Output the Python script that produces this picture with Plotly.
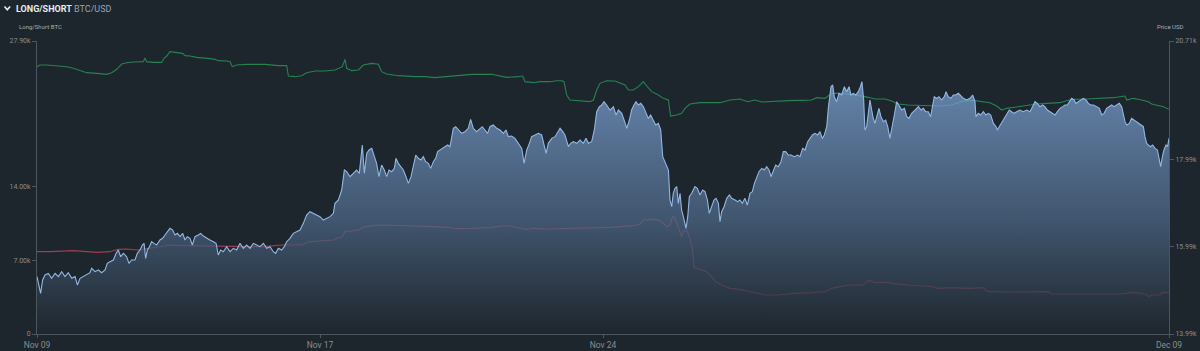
import pandas as pd
import plotly.graph_objects as go

# ---------------- data ----------------
START = pd.Timestamp("2020-11-09 12:00")
END_HOURS = 720

x_tick_hours = [0, 180, 360, 720]
x_tick_labels = ["Nov 09", "Nov 17", "Nov 24", "Dec 09"]

left_tick_vals = [0, 7000, 14000, 27900]
left_tick_labels = ["0", "7.00k", "14.00k", "27.90k"]
right_tick_vals = [13990, 15990, 17990, 20710]
right_tick_labels = ["13.99k", "15.99k", "17.99k", "20.71k"]

price_hours = [
    0, 0.9, 2.3, 3.6, 5.1, 7.2, 9.3, 11.5, 13.6, 15.7, 17.8, 19.9, 22.1, 24.2, 25.7, 27.4, 29.5, 31.6, 33.7, 34.8,
    36.9, 39.0, 41.1, 43.3, 44.7, 46.4, 48.6, 50.3, 51.7, 53.2, 54.9, 57.0, 58.5, 60.2, 62.3, 63.8, 65.5, 67.0, 68.1, 69.1,
    70.2, 71.5, 72.9, 74.4, 76.1, 78.2, 79.9, 81.4, 82.9, 84.6, 86.3, 87.8, 89.3, 91.0, 92.7, 94.1, 95.6, 97.3, 98.8, 100.5,
    102.6, 104.1, 105.8, 107.9, 110.0, 112.2, 113.9, 115.3, 116.8, 118.5, 120.6, 122.8, 124.9, 127.0, 129.1, 131.2, 133.4, 135.5, 137.6, 139.7,
    141.8, 144.0, 146.1,
    148.2, 150.3, 151.8, 153.5, 155.6, 157.3, 158.8, 160.9, 163.0, 165.2, 167.3, 169.4, 171.5, 173.6, 175.8, 177.9, 180.0, 182.1, 184.2, 186.4,
    188.5, 189.5, 191.7, 193.8, 195.5, 197.0, 199.1, 201.2, 203.3, 205.0, 206.9, 208.2, 209.7, 211.2, 212.9, 214.6, 216.0, 217.5, 219.2, 220.9,
    222.4, 223.9, 225.6, 227.3, 228.3, 229.8, 231.5, 233.0, 234.7, 236.2, 237.9, 239.4, 240.9, 242.5, 244.2, 245.7, 247.2, 248.9, 250.4, 252.1,
    253.6, 254.8, 256.3, 257.8, 259.5, 261.2, 262.7, 263.7, 264.8, 266.3, 268.0, 270.1, 272.2, 274.3, 275.8, 277.5, 279.6, 281.8, 283.2, 284.9,
    286.6, 288.1, 290.2, 292.4, 294.5,
    296.6, 298.3, 299.8, 301.9, 304.0, 306.2, 308.3, 309.8, 311.5, 313.2, 314.6, 316.8, 318.9, 321.0, 322.5, 323.8, 325.2, 327.4, 329.5, 331.0,
    332.7, 334.4, 335.8, 338.0, 339.4, 341.1, 343.3, 345.4, 347.5, 349.2, 350.7, 352.8, 354.5, 356.0, 357.7, 359.2, 360.6, 362.3, 364.5, 366.6,
    368.3, 369.8, 371.9, 373.4, 375.1, 376.8, 378.2, 379.7, 381.0, 382.5, 384.0, 385.7, 387.4, 388.8, 390.3, 392.0, 393.5, 395.2, 396.7, 398.0,
    399.4, 400.5, 401.6, 402.6, 403.7, 404.7, 405.8, 406.9, 407.9, 409.0, 410.0, 411.1, 412.2, 412.8, 413.9, 414.9, 416.4, 418.5, 420.0, 421.7,
    423.4, 424.9, 426.4, 427.6, 429.1, 430.6, 431.9, 433.4, 434.4, 435.5, 437.0, 438.7, 440.4, 441.8, 444.0,
    445.7, 447.1, 448.6, 450.3, 451.8, 453.5, 455.0, 456.3, 457.7, 459.2, 461.0, 462.6, 464.1, 465.6, 466.9, 468.3, 469.8, 471.5, 473.2, 474.7,
    476.2, 477.9, 479.6, 481.7, 483.8, 485.3, 487.0, 488.5, 490.2, 491.7, 493.2, 494.8, 496.5, 498.0, 499.5, 500.8, 502.3, 503.3, 505.0, 506.1,
    507.1, 508.6, 510.1, 511.8, 513.5, 515.0, 516.5, 517.7, 519.2, 520.7, 522.4, 523.7, 524.7, 525.8, 526.6, 527.7, 528.8, 529.8, 530.9, 531.9,
    533.0, 534.1, 535.5, 536.8, 538.3, 539.8, 541.1, 542.5, 544.0, 545.3, 546.8, 548.3, 550.0, 551.7, 553.2, 554.6, 556.3, 558.4, 560.6, 562.3,
    563.7, 565.2, 566.9, 568.4, 569.5, 570.7, 572.2, 573.7, 575.4, 577.1, 578.2, 579.6, 581.3, 582.8, 584.3, 586.0,
    589.2, 591.3, 593.4, 595.1, 596.6, 597.2, 598.7, 600.2, 601.9, 603.6, 605.1, 606.6, 608.3, 610.0, 610.8, 612.1, 613.6, 615.1, 616.7, 618.4,
    619.9, 621.4, 623.1, 625.2, 627.3, 629.5, 631.6, 633.3, 634.8, 636.2, 637.9, 639.6, 641.1, 642.6, 644.3, 646.0, 647.5, 649.0, 650.7, 652.4,
    653.8, 655.3, 656.6, 658.1, 659.6, 660.8, 662.3, 663.8, 665.5, 667.2, 668.7, 670.2, 671.9, 674.0, 675.7, 677.2, 678.7, 680.3, 682.0, 683.5,
    685.0, 686.7, 688.4, 689.9, 690.9, 692.0, 693.1, 694.8, 696.2, 697.7, 699.4, 701.1, 702.6, 703.7, 704.7, 705.8, 706.8, 708.3, 709.6, 711.1,
    712.6, 713.8, 714.7, 715.8, 716.8, 718.1, 719.1, 720.0,
]

price_usd = [
    15305, 15152, 14922, 15228, 15343, 15381, 15266, 15381, 15305, 15419, 15305, 15396, 15266, 15305, 15114, 15266, 15305, 15343, 15396, 15496,
    15419, 15458, 15396, 15458, 15611, 15649, 15687, 15840, 15916, 15763, 15840, 15763, 15611, 15687, 15687, 15840, 15916, 16031, 16069, 15725,
    15916, 15993, 16107, 16069, 16031, 16146, 16184, 16260, 16337, 16413, 16375, 16260, 16298, 16222, 16298, 16146, 16222, 16184, 16031, 16222,
    16260, 16298, 16237, 16184, 16146, 16107, 16069, 15802, 15916, 15878, 15993, 15878, 15955, 15916, 16069, 15955, 16031, 15955, 16069, 16031,
    15993, 16069, 15955,
    15993, 15878, 15840, 15955, 15916, 15993, 16107, 16184, 16298, 16337, 16375, 16528, 16719, 16796, 16757, 16719, 16681, 16604, 16643, 16681,
    16757, 16987, 17063, 17292, 17751, 17713, 17598, 17675, 17751, 17675, 18325, 17675, 18133, 18210, 18248, 18057, 17904, 17598, 17866, 17751,
    17598, 17751, 17713, 17789, 18019, 17904, 17828, 17751, 17598, 17445, 17598, 17828, 18095, 18019, 17981, 18057, 17942, 17904, 17789, 17942,
    18019, 18172, 18210, 18248, 18286, 18325, 18286, 18477, 18707, 18745, 18669, 18592, 18630, 18707, 18913, 18707, 18630, 18707, 18745, 18669,
    18592, 18745, 18783, 18707, 18669,
    18592, 18669, 18516, 18531, 18477, 18363, 18248, 17904, 18210, 18363, 18516, 18554, 18592, 18554, 18325, 18133, 18363, 18477, 18516, 18592,
    18707, 18630, 18554, 18286, 18363, 18401, 18363, 18439, 18363, 18477, 18363, 18401, 18669, 19089, 19204, 19242, 19318, 19242, 19127, 19204,
    19013, 19127, 19051, 18898, 18707, 18898, 19127, 19242, 19318, 19242, 19280, 19204, 19051, 18936, 19013, 18898, 18783, 18821, 18669, 18057,
    17942, 17828, 17751, 17063, 16910, 17216, 17331, 17369, 16987, 17216, 16834, 16681, 16528, 16413, 16681, 17140, 17216, 17369, 17331, 17178,
    17292, 17254, 17063, 16757, 16910, 17063, 17101, 16987, 16566, 16796, 16910, 17101, 17178, 17101, 17063,
    17025, 17063, 16987, 17101, 16948, 17216, 17254, 17445, 17598, 17713, 17789, 17751, 17828, 17751, 17598, 17751, 17866, 17828, 17942, 18172,
    18172, 18095, 18095, 18057, 18095, 18057, 18248, 18210, 18401, 18477, 18554, 18592, 18554, 18630, 18477, 18554, 18745, 19165, 19662, 19701,
    19433, 19318, 19510, 19471, 19662, 19548, 19662, 19471, 19510, 19471, 19548, 19662, 19777, 19357, 18669, 18745, 19051, 19357, 19127, 18936,
    18821, 18974, 19165, 18974, 18860, 18898, 18745, 18477, 18821, 19013, 19318, 19242, 19127, 19165, 18974, 18936, 19051, 19127, 19204, 19127,
    19165, 19089, 19089, 18974, 19204, 19433, 19395, 19433, 19357, 19433, 19548, 19433, 19395, 19471, 19471, 19510,
    19395, 19357, 19395, 19471, 19318, 18974, 19051, 19013, 19089, 19013, 19051, 19013, 18821, 18745, 18669, 18745, 18860, 18936, 19013, 19127,
    19089, 19051, 19089, 19127, 19089, 19127, 19089, 19204, 19318, 19280, 19204, 19242, 19204, 19127, 19089, 19051, 19013, 19089, 19165, 19204,
    19242, 19242, 19318, 19395, 19357, 19280, 19318, 19357, 19395, 19357, 19280, 19242, 19242, 19204, 19165, 19013, 19051, 19165, 19204, 19242,
    19204, 19242, 19280, 19204, 19051, 18860, 18783, 18821, 18936, 18898, 18860, 18821, 18783, 18745, 18516, 18363, 18325, 18286, 18325, 18248,
    18210, 18019, 17828, 18057, 18210, 18325, 18286, 18477,
]

long_hours = [
    0, 1.9, 6.2, 12.5, 18.9, 23.1, 27.4, 31.6, 37.9, 44.3, 47.5, 50.7, 53.9, 57.0, 61.3, 67.6, 68.7, 69.7, 74.0, 79.3,
    80.8, 82.5, 84.6, 88.8, 92.6, 94.1, 97.3, 101.6, 105.8, 110.0, 113.2, 115.3, 120.6, 122.8, 124.2, 127.0, 133.4, 143.9,
    145.0, 153.5, 158.8, 159.9, 164.1, 168.3, 171.5, 176.8, 183.2, 189.5, 191.7, 194.2, 195.9, 197.0, 200.1, 204.4, 207.6, 212.9, 217.1, 219.2,
    222.4, 229.8, 240.4, 246.8, 253.1, 259.5, 268.0, 276.5, 289.2, 293.4,
    298.7, 306.2, 308.9, 310.4, 315.7, 319.9, 326.3, 330.5, 333.7, 335.2, 336.9, 339.0, 345.4, 351.7, 353.9, 356.0, 358.1, 362.3, 367.6, 370.8,
    374.0, 376.1, 379.3, 382.5, 385.7, 387.8, 391.0, 395.2, 398.4, 401.6, 403.0, 406.9, 410.0, 412.2, 415.3, 421.7, 428.1, 434.4, 440.8, 447.1,
    452.0, 456.7, 461.0, 469.4, 477.9, 486.4, 492.7, 495.9, 501.2, 505.4, 511.8, 518.2, 525.6, 528.8, 533.0, 539.4, 543.6, 547.8, 554.2, 562.7,
    573.3, 581.8,
    589.2, 595.5, 599.8, 606.1, 610.4, 613.6, 616.7, 621.0, 627.3, 635.8, 642.2, 650.7, 654.9, 659.1, 667.6, 676.1, 684.6, 688.8, 692.0, 693.1,
    697.3, 702.6, 706.8, 709.0, 712.1, 716.4, 720.0,
]

long_btc = [
    25456, 25614, 25614, 25551, 25456, 25297, 25075, 24884, 24821, 24726, 24884, 25202, 25709, 25836, 25900, 25932, 26281, 25932, 25868, 25868,
    26249, 26471, 26884, 26789, 26725, 26503, 26471, 26344, 26249, 26217, 26154, 26027, 25995, 25932, 25456, 25614, 25678, 25709,
    25678, 25551, 25551, 24567, 24503, 24599, 24884, 25043, 25043, 25138, 25297, 25456, 26154, 25297, 25075, 25138, 25614, 25773, 25678, 24980,
    24757, 24599, 24503, 24503, 24408, 24503, 24662, 24726, 24726, 24599,
    24440, 24503, 24567, 24027, 23932, 24027, 24027, 24122, 24122, 24027, 22758, 22282, 22218, 22123, 22282, 23234, 23869, 24122, 24091, 23869,
    23710, 23234, 23234, 23551, 24027, 23615, 23075, 22758, 22440, 22282, 20758, 20853, 21012, 21488, 21901, 22028, 22028, 22028, 22282, 22377,
    22123, 22282, 22091, 22186, 22218, 22250, 22282, 22504, 22440, 22916, 22916, 22821, 22662, 22535, 22377, 22377, 22186, 21901, 21806, 21742,
    21710, 21806,
    22200, 22250, 22150, 22028, 21710, 21329, 21488, 21583, 21710, 21901, 21964, 22028, 22218, 22345, 22377, 22408, 22504, 22599, 22662, 22282,
    22440, 22282, 22123, 21901, 21806, 21646, 21392,
]

short_hours = [
    0, 8.3, 23.1, 37.9, 46.4, 51.7, 57.0, 63.4, 67.6, 71.9, 76.1, 80.4, 83.5, 88.8, 97.3, 105.8, 114.3, 122.8, 133.4, 143.9,
    155.6, 164.1, 169.4, 172.6, 181.1, 188.5, 190.6, 193.8, 195.9, 200.1, 204.4, 207.6, 212.9, 221.3, 229.8, 240.4, 251.0, 261.6, 265.9, 276.5,
    289.2, 295.5,
    300.8, 307.2, 311.4, 315.7, 326.3, 339.0, 349.6, 358.1, 364.5, 370.8, 379.3, 383.5, 385.7, 392.0, 395.2, 398.4, 400.5, 402.6, 404.3, 405.8,
    407.9, 410.0, 411.1, 413.2, 415.3, 417.0, 417.9, 421.7, 425.9, 429.1, 431.2, 435.5, 440.8, 447.1,
    452.4, 458.8, 463.0, 471.5, 482.1, 492.7, 501.2, 505.4, 511.8, 516.0, 525.6, 527.7, 529.8, 533.0, 541.5, 543.6, 554.2, 564.8, 570.1, 572.2,
    581.8, 592.4,
    601.9, 604.0, 606.1, 618.9, 629.5, 643.2, 645.4, 650.7, 654.9, 671.9, 688.8, 697.3, 702.6, 705.8, 707.3, 709.0, 714.3, 715.3, 720.0,
]

short_btc = [
    7840, 7840, 7935, 7776, 7840, 8062, 8094, 7999, 8062, 8126, 8253, 8380, 8475, 8443, 8411, 8411, 8380, 8316, 8316, 8316,
    8475, 8475, 8538, 8792, 8887, 8951, 9110, 9205, 9745, 9840, 9903, 10157, 10316, 10379, 10348, 10284, 10221, 10157, 10030, 10062,
    10157, 10284,
    10284, 10062, 9967, 10062, 9999, 10062, 10062, 10126, 10157, 10221, 10316, 10475, 10856, 10919, 10856, 10538, 10221, 10379, 11173, 11014,
    10221, 9268, 9745, 9903, 9110, 7999, 6348, 6158, 5935, 5459, 4983, 4666, 4348, 4253,
    4094, 3872, 3713, 3713, 3872, 3936, 4031, 4348, 4507, 4666, 4666, 4983, 5078, 4888, 4920, 4824, 4666, 4570, 4507, 4348,
    4412, 4348,
    4412, 4126, 4031, 3999, 3999, 4031, 3809, 3809, 3872, 3872, 3809, 3968, 3872, 3713, 3555, 3713, 3713, 3968, 3936,
]

# ---------------- styling ----------------
BG = "rgb(30,38,45)"
AXIS = "#4c565f"
TICKTXT = "#858d95"
FONT = "Roboto"

W, H = 1200, 351
ML, MR, MT, MB = 37, 31, 41, 17
PW, PH = W - ML - MR, H - MT - MB


def px(x):
    return (x - ML) / PW


def py(y):
    return (H - MB - y) / PH


def to_dt(hours):
    return [START + pd.Timedelta(hours=h) for h in hours]


def pairs(a, b):
    n = min(len(a), len(b))
    return a[:n], b[:n]


lh, lv = pairs(long_hours, long_btc)
sh, sv = pairs(short_hours, short_btc)
ph, pv = pairs(price_hours, price_usd)

fig = go.Figure()
fig.add_trace(go.Scatter(
    x=to_dt(lh), y=lv, mode="lines", yaxis="y",
    line=dict(color="#26824f", width=1.1), hoverinfo="skip", name="Long"))
fig.add_trace(go.Scatter(
    x=to_dt(sh), y=sv, mode="lines", yaxis="y",
    line=dict(color="#9e3d55", width=1.1), hoverinfo="skip", name="Short"))
fig.add_trace(go.Scatter(
    x=to_dt(ph), y=pv, mode="lines", yaxis="y2",
    line=dict(color="#93b7e3", width=1.1),
    fill="tozeroy",
    fillgradient=dict(
        type="vertical",
        colorscale=[[0, "rgba(30,38,45,0.72)"], [0.45, "rgba(78,104,136,0.72)"], [1, "rgba(128,168,220,0.72)"]],
        start=13990, stop=19800),
    hoverinfo="skip", name="Price"))

tick_dates = [START + pd.Timedelta(hours=h) for h in x_tick_hours]

axis_common = dict(
    showgrid=False, zeroline=False, automargin=False,
    showline=True, linecolor=AXIS, linewidth=1,
    ticks="outside", tickcolor=AXIS,
)

fig.update_layout(
    width=W, height=H,
    margin=dict(l=ML, r=MR, t=MT, b=MB, pad=0, autoexpand=False),
    paper_bgcolor=BG, plot_bgcolor=BG,
    showlegend=False, hovermode=False,
    font=dict(family=FONT, color=TICKTXT, size=7),
    xaxis=dict(
        type="date",
        range=[START, START + pd.Timedelta(hours=END_HOURS)],
        tickvals=tick_dates, ticktext=x_tick_labels, ticklen=3,
        tickfont=dict(size=8.5, color=TICKTXT, family=FONT),
        **axis_common,
    ),
    yaxis=dict(
        range=[0, 27900],
        tickvals=left_tick_vals, ticktext=left_tick_labels, ticklen=4,
        tickfont=dict(size=7, color=TICKTXT, family=FONT),
        **axis_common,
    ),
    yaxis2=dict(
        range=[13990, 20710], overlaying="y", side="right",
        tickvals=right_tick_vals, ticktext=right_tick_labels, ticklen=4,
        tickfont=dict(size=7, color=TICKTXT, family=FONT),
        **axis_common,
    ),
)

# header and axis titles
fig.add_annotation(
    x=px(14), y=py(8.5), xref="paper", yref="paper", xanchor="left", yanchor="middle",
    text="<b>LONG/SHORT</b> <span style='color:#9aa2aa'>BTC/USD</span>",
    showarrow=False, font=dict(family=FONT, size=9, color="#e8ecef"))
fig.add_annotation(
    x=px(17), y=py(27), xref="paper", yref="paper", xanchor="left", yanchor="middle",
    text="Long/Short BTC", showarrow=False, font=dict(family=FONT, size=6, color="#a7aeb5"))
fig.add_annotation(
    x=px(1186), y=py(27), xref="paper", yref="paper", xanchor="right", yanchor="middle",
    text="Price USD", showarrow=False, font=dict(family=FONT, size=6, color="#a7aeb5"))

# chevron icon in the header
fig.add_shape(
    type="path", xref="paper", yref="paper",
    path=f"M {px(4.5)} {py(6.5)} L {px(7.3)} {py(9.8)} L {px(10.1)} {py(6.5)}",
    line=dict(color="#e8ecef", width=1.6))

fig.write_html("out.html")
